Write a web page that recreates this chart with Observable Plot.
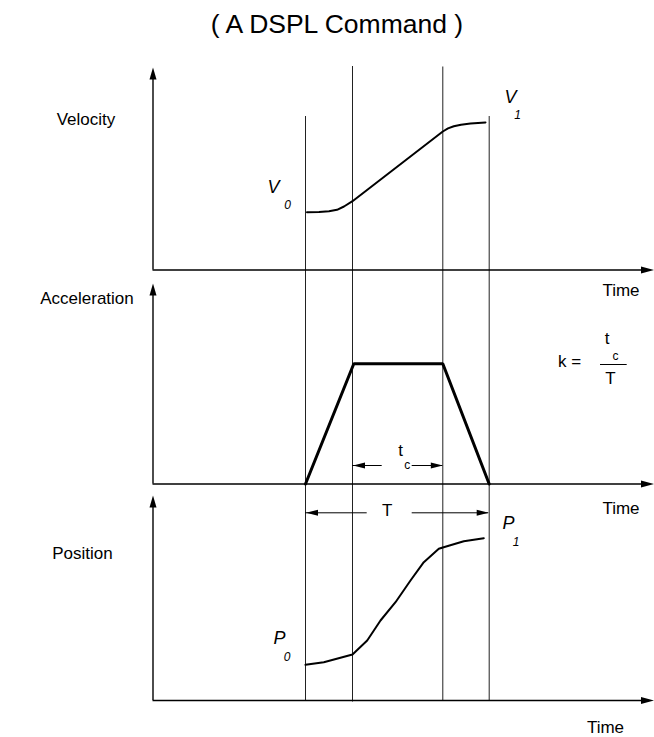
<!DOCTYPE html>
<html><head><meta charset="utf-8">
<script src="https://cdn.jsdelivr.net/npm/d3@7"></script>
<script src="https://cdn.jsdelivr.net/npm/@observablehq/plot@0.6"></script>
<style>html,body{margin:0;padding:0;background:#fff;} svg{display:block;}</style>
</head><body><div id="chart"></div>
<script>
// ---------------- data (schematic units: time from the value axis, value above each panel's time axis)
const title = "( A DSPL Command )";
const panelNames = ["Velocity", "Acceleration", "Position"];
const timeLabel = "Time";
const eventTimes = [152.5, 199.5, 289.8, 336.2];          // start, end of ramp-up, start of ramp-down, end
const velocityT = [154, 166, 176, 184, 191, 199.5, 289.8, 295, 300.8, 308, 317.5, 332.5];
const velocityV = [57.8, 58, 58.7, 60.2, 63.5, 68.8, 138.5, 141.6, 143.8, 145.3, 146.4, 147.6];
const accelT = [152.5, 200.8, 289.8, 336.2];
const accelV = [0, 120.2, 120.2, 0];
const positionT = [152.5, 170.8, 199.5, 214.2, 227.5, 242.5, 257.5, 270.8, 285.8, 289.8, 310.8, 330.8];
const positionV = [35.7, 38.3, 46, 60, 80, 98.3, 120, 138.3, 151.7, 153, 159.3, 162.3];

// ---------------- layout
const FONT = "'Liberation Sans', Arial, Helvetica, sans-serif";
const W = 654, H = 737;
const offsets = [467.5, 253.5, 37];        // global y of each panel's time axis
const axisTops = [202.5, 200.5, 205];      // height of each value axis
const axisEnd = 501;
const G = (p, v) => offsets[p] + v;

const velocity = velocityT.map((t, i) => ({t, g: G(0, velocityV[i])}));
const accel = accelT.map((t, i) => ({t, g: G(1, accelV[i])}));
const position = positionT.map((t, i) => ({t, g: G(2, positionV[i])}));

const eventTopV = [153.5, 203.5, 203, 153.5];
const events = eventTimes.map((t, i) => ({t, top: G(0, eventTopV[i]), bottom: G(2, i === 1 ? -1.5 : 0)}));

const panels = panelNames.map((name, p) => ({name, p, base: G(p, 0), top: G(p, axisTops[p])}));

// arrowhead symbols (tip at the point)
const tri = (dx1, dy1, dx2, dy2) => ({draw(ctx) { ctx.moveTo(0, 0); ctx.lineTo(dx1, dy1); ctx.lineTo(dx2, dy2); ctx.closePath(); }});
const headUp = tri(-3.5, 12, 3.5, 12);
const headRight = tri(-13, -3.5, -13, 3.5);
const dimRight = tri(-12, -3, -12, 3);
const dimLeft = tri(12, -3, 12, 3);

// dimension lines
const dims = [
  {x1: eventTimes[1], x2: 229.2, g: G(1, 18.5)},
  {x1: 259.2, x2: eventTimes[2], g: G(1, 18.5)},
  {x1: eventTimes[0], x2: 214.2, g: G(2, 187.7)},
  {x1: 259.2, x2: eventTimes[3] - 0.5, g: G(2, 187.7)}
];
const dimHeadsL = [{t: eventTimes[1] + 0.5, g: G(1, 18.5)}, {t: eventTimes[0] + 0.5, g: G(2, 187.7)}];
const dimHeadsR = [{t: eventTimes[2], g: G(1, 18.5)}, {t: eventTimes[3] - 0.5, g: G(2, 187.7)}];

// texts
const bigTexts = [
  {t: 184, g: H - 24, s: title}
];
const labels = [
  {t: -67, g: G(0, 150.5), s: panelNames[0]},
  {t: -66, g: G(1, 185.5), s: panelNames[1]},
  {t: -70.5, g: G(2, 147), s: panelNames[2]},
  {t: 468, g: G(0, -20.5), s: timeLabel},
  {t: 468, g: G(1, -24.5), s: timeLabel},
  {t: 452.5, g: G(2, -27), s: timeLabel},
  {t: 416.5, g: G(1, 122.5), s: "k ="},
  {t: 454.2, g: G(1, 145.5), s: "t"},
  {t: 457.5, g: G(1, 105.5), s: "T"},
  {t: 247.5, g: G(1, 33.5), s: "t"},
  {t: 234.2, g: G(2, 190), s: "T"}
];
const subs = [
  {t: 462.5, g: G(1, 127.5), s: "c"},
  {t: 254.2, g: G(1, 18.5), s: "c"}
];
const italics = [
  {t: 120.5, g: G(0, 82.5), s: "V"},
  {t: 357.5, g: G(0, 172.5), s: "V"},
  {t: 126.5, g: G(2, 62), s: "P"},
  {t: 355.5, g: G(2, 177), s: "P"}
];
const italicSubs = [
  {t: 134.5, g: G(0, 64.5), s: "0"},
  {t: 364.5, g: G(0, 154.5), s: "1"},
  {t: 134.2, g: G(2, 43.3), s: "0"},
  {t: 363.2, g: G(2, 158.3), s: "1"}
];
const fraction = [{x1: 447.5, x2: 474.2, g: G(1, 119.5)}];

const txt = (data, o) => Plot.text(data, {x: "t", y: "g", text: "s", fontFamily: FONT, textAnchor: "middle", lineAnchor: "middle", fill: "black", ...o});

const chart = Plot.plot({
  width: W, height: H,
  marginTop: 0, marginRight: 0, marginBottom: 0, marginLeft: 0,
  x: {domain: [-152.5, W - 152.5], range: [0, W], axis: null},
  y: {domain: [0, H], range: [H, 0], axis: null},
  style: {background: "white", overflow: "visible"},
  marks: [
    // event verticals
    Plot.ruleX(events, {x: "t", y1: "bottom", y2: "top", stroke: "#222", strokeWidth: 1}),
    // value axes & time axes
    Plot.ruleX(panels, {x: 0, y1: "base", y2: d => d.top - 6, stroke: "black", strokeWidth: 1.4}),
    Plot.ruleY(panels, {y: "base", x1: 0, x2: axisEnd - 6, stroke: "black", strokeWidth: 1.4}),
    Plot.dot(panels, {x: 0, y: "top", symbol: headUp, fill: "black", stroke: "none"}),
    Plot.dot(panels, {x: axisEnd, y: "base", symbol: headRight, fill: "black", stroke: "none"}),
    // curves
    Plot.line(velocity, {x: "t", y: "g", stroke: "black", strokeWidth: 2}),
    Plot.line(accel, {x: "t", y: "g", stroke: "black", strokeWidth: 3, strokeLinejoin: "miter"}),
    Plot.line(position, {x: "t", y: "g", stroke: "black", strokeWidth: 2}),
    // dimension lines
    Plot.ruleY(dims, {y: "g", x1: "x1", x2: "x2", stroke: "black", strokeWidth: 1}),
    Plot.dot(dimHeadsL, {x: "t", y: "g", symbol: dimLeft, fill: "black", stroke: "none"}),
    Plot.dot(dimHeadsR, {x: "t", y: "g", symbol: dimRight, fill: "black", stroke: "none"}),
    Plot.ruleY(fraction, {y: "g", x1: "x1", x2: "x2", stroke: "black", strokeWidth: 1}),
    // texts
    txt(bigTexts, {fontSize: 26.5}),
    txt(labels, {fontSize: 17}),
    txt(subs, {fontSize: 12}),
    txt(italics, {fontSize: 18, fontStyle: "italic"}),
    txt(italicSubs, {fontSize: 12, fontStyle: "italic"})
  ]
});
document.getElementById("chart").appendChild(chart);
</script>
</body></html>
